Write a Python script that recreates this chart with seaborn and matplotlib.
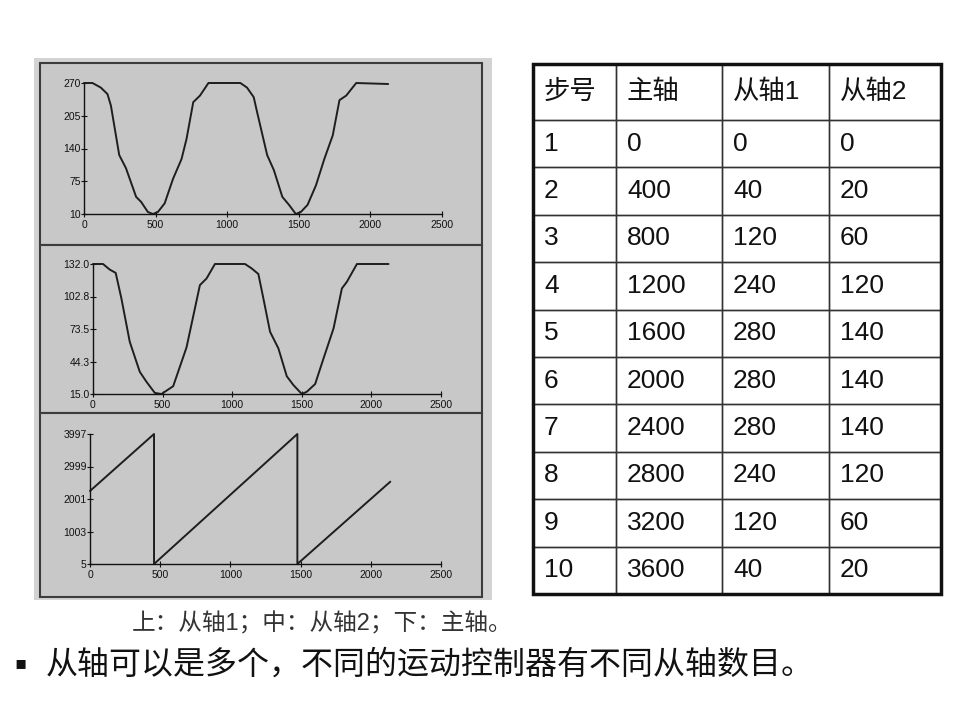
import matplotlib
matplotlib.use("Agg")
import matplotlib.pyplot as plt
from matplotlib.patches import Rectangle
import pandas as pd
import seaborn as sns

# ---------------- data ----------------
# 从轴1 (top plot)
slave1_x = [0, 59, 117, 164, 188, 246, 293, 364, 399, 446, 481, 516, 563, 622, 681, 716, 763, 810, 869,
            1092, 1138, 1185, 1209, 1279, 1326, 1385, 1432, 1479, 1514, 1561, 1620, 1678, 1737, 1784, 1831, 1901, 2124]
slave1_y = [270, 270, 261, 248, 225, 127, 101, 44, 34, 14, 10, 14, 31, 80, 119, 159, 232, 245, 270,
            270, 261, 242, 212, 127, 97, 44, 28, 10, 14, 28, 67, 119, 166, 236, 245, 270, 268]
slave1_ticks = [10, 75, 140, 205, 270]
slave1_ticklabels = ["10", "75", "140", "205", "270"]

# 从轴2 (middle plot)
slave2_x = [0, 72, 120, 163, 204, 264, 336, 384, 444, 492, 576, 672, 768, 816, 876,
            1092, 1140, 1188, 1224, 1272, 1332, 1392, 1440, 1500, 1536, 1596, 1656, 1728, 1788, 1824, 1896, 2123]
slave2_y = [132, 132, 127, 124, 101, 62, 35, 26, 16, 15, 22, 57, 113, 119, 132,
            132, 128, 123, 101, 71, 56, 31, 23, 15, 17, 24, 47, 74, 110, 116, 132, 132]
slave2_ticks = [15.0, 44.25, 73.5, 102.75, 132.0]
slave2_ticklabels = ["15.0", "44.3", "73.5", "102.8", "132.0"]

# 主轴 (bottom plot)
master_x = [0, 456, 456, 1477, 1477, 2139]
master_y = [2247, 3997, 5, 3997, 5, 2533]
master_ticks = [5, 1003, 2001, 2999, 3997]
master_ticklabels = ["5", "1003", "2001", "2999", "3997"]

x_ticks = [0, 500, 1000, 1500, 2000, 2500]
x_ticklabels = ["0", "500", "1000", "1500", "2000", "2500"]

# table
table_header = ["步号", "主轴", "从轴1", "从轴2"]
step_no = ["1", "2", "3", "4", "5", "6", "7", "8", "9", "10"]
master_pos = ["0", "400", "800", "1200", "1600", "2000", "2400", "2800", "3200", "3600"]
slave1_pos = ["0", "40", "120", "240", "280", "280", "280", "240", "120", "40"]
slave2_pos = ["0", "20", "60", "120", "140", "140", "140", "120", "60", "20"]

caption = "上：从轴1；中：从轴2；下：主轴。"
bullet_text = "从轴可以是多个，不同的运动控制器有不同从轴数目。"

# ---------------- style ----------------
sns.set_theme(style="white")
FONTS = ["Liberation Sans", "Noto Sans CJK SC", "DejaVu Sans"]
plt.rcParams["font.family"] = FONTS

W, H = 960, 720
fig = plt.figure(figsize=(9.6, 7.2), dpi=100)
fig.patch.set_facecolor("white")


def fx(px):
    return px / W


def fy(py):
    return 1 - py / H


# gray panel background (behind the axes)
fig.patches.append(Rectangle((fx(34), fy(600)), fx(492 - 34), (600 - 58) / H,
                             transform=fig.transFigure, facecolor="#d3d3d3",
                             edgecolor="none", zorder=-3))
for top, bottom in [(63, 245), (245, 413), (413, 597)]:
    fig.patches.append(Rectangle((fx(40), fy(bottom)), fx(482 - 40), (bottom - top) / H,
                                 transform=fig.transFigure, facecolor="#c8c8c8",
                                 edgecolor="#3c3c3c", linewidth=1.5, zorder=-2))

panels = [
    (slave1_x, slave1_y, slave1_ticks, slave1_ticklabels, (84, 442, 83, 214)),
    (slave2_x, slave2_y, slave2_ticks, slave2_ticklabels, (93, 441, 264, 394)),
    (master_x, master_y, master_ticks, master_ticklabels, (90, 441, 434, 564)),
]

for xs, ys, yt, ytl, (l, r, t, b) in panels:
    ax = fig.add_axes([fx(l), fy(b), fx(r - l), (b - t) / H])
    ax.set_facecolor("none")
    ax.set_zorder(2)
    df = pd.DataFrame({"x": xs, "y": ys})
    sns.lineplot(data=df, x="x", y="y", sort=False, estimator=None, ax=ax,
                 color="#1e1e1e", linewidth=1.4)
    for line in ax.get_lines():
        line.set_clip_on(False)
    ax.set_xlim(0, 2500)
    ax.set_ylim(yt[0], yt[-1])
    ax.set_xticks(x_ticks)
    ax.set_xticklabels(x_ticklabels)
    ax.set_yticks(yt)
    ax.set_yticklabels(ytl)
    ax.set_xlabel("")
    ax.set_ylabel("")
    for s in ["top", "right"]:
        ax.spines[s].set_visible(False)
    for s in ["left", "bottom"]:
        ax.spines[s].set_color("#111111")
        ax.spines[s].set_linewidth(1.0)
    ax.tick_params(direction="inout", length=4, width=0.8, labelsize=7.5,
                   colors="#111111", left=True, bottom=True)
    ax.tick_params(axis="y", pad=0.5)
    ax.tick_params(axis="x", pad=2.5)
    ax.grid(False)

# ---------------- table ----------------
tl, tr, tt, tb = 533, 941, 64, 594
tax = fig.add_axes([fx(tl), fy(tb), fx(tr - tl), (tb - tt) / H])
tax.axis("off")
col_px = [83, 106, 107, 112]
total_w = sum(col_px)
header_h = 56
row_h = (tb - tt - header_h) / 10
cell_text = [list(r) for r in zip(step_no, master_pos, slave1_pos, slave2_pos)]
tbl = tax.table(cellText=cell_text, colLabels=table_header, cellLoc="left", colLoc="left",
                bbox=[0, 0, 1, 1], colWidths=[c / total_w for c in col_px])
tbl.auto_set_font_size(False)
for (r, c), cell in tbl.get_celld().items():
    cell.set_height((header_h if r == 0 else row_h) / (tb - tt))
    cell.set_linewidth(1.0)
    cell.set_edgecolor("#333333")
    cell.set_facecolor("none")
    cell.PAD = 11 / col_px[c]
    txt = cell.get_text()
    txt.set_fontsize(19)
    txt.set_fontfamily(FONTS)
    txt.set_color("#111111")
tax.add_patch(Rectangle((0, 0), 1, 1, transform=tax.transAxes, fill=False,
                        edgecolor="#111111", linewidth=2.5, clip_on=False, zorder=5))

# ---------------- texts ----------------
fig.text(fx(132), fy(624), caption, fontsize=17, va="center", ha="left", color="#333333")
fig.text(fx(14), fy(663), "▪", fontsize=13, va="center", ha="left",
         family=["DejaVu Sans"], color="#111111")
fig.text(fx(46), fy(665), bullet_text, fontsize=23, va="center", ha="left", color="#111111")

fig.savefig("out.png", dpi=100, facecolor="white")
